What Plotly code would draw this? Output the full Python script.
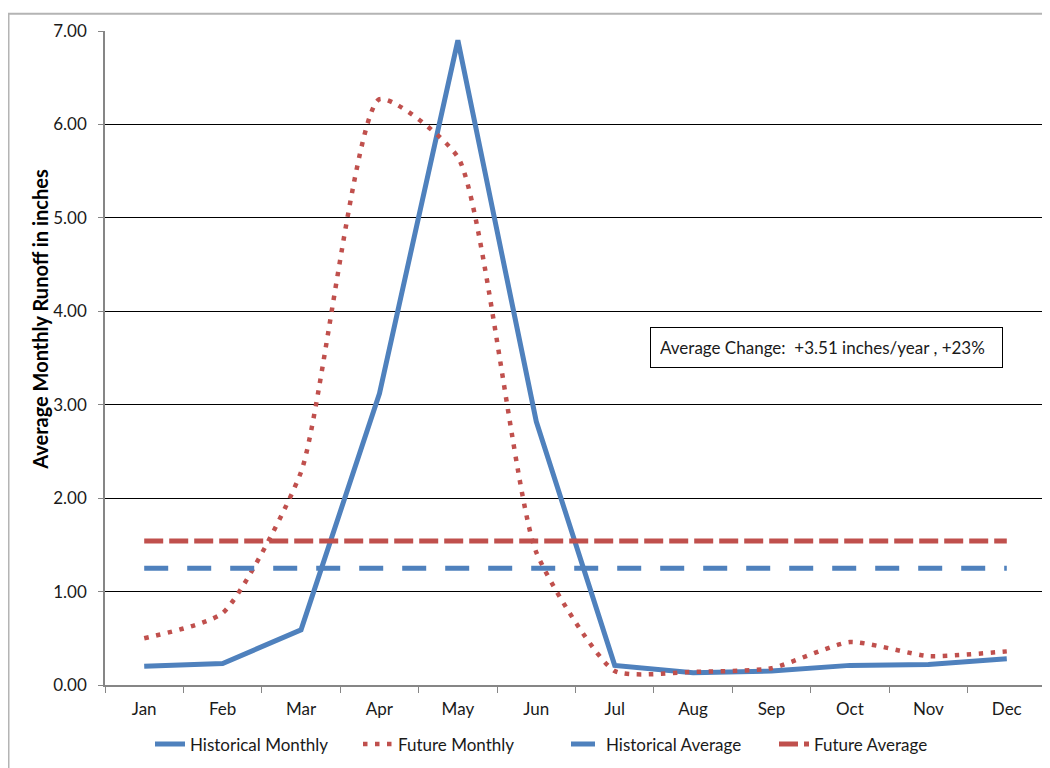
import plotly.graph_objects as go

months = ["Jan", "Feb", "Mar", "Apr", "May", "Jun", "Jul", "Aug", "Sep", "Oct", "Nov", "Dec"]
historical_monthly = [0.20, 0.23, 0.59, 3.12, 6.90, 2.82, 0.21, 0.13, 0.15, 0.21, 0.22, 0.28]
future_monthly = [0.50, 0.77, 2.28, 6.27, 5.65, 1.42, 0.15, 0.14, 0.18, 0.46, 0.31, 0.36]
historical_average = [1.25] * 12
future_average = [1.54] * 12
y_ticks = [0, 1, 2, 3, 4, 5, 6, 7]
y_tick_labels = ["0.00", "1.00", "2.00", "3.00", "4.00", "5.00", "6.00", "7.00"]
y_title = "Average Monthly Runoff in inches"
note = "Average Change:  +3.51 inches/year , +23%"

BLUE = "#4F81BD"
RED = "#C0504D"
FONT = "Lato"

fig = go.Figure()
fig.add_trace(go.Scatter(x=months, y=historical_monthly, name="Historical Monthly", mode="lines",
                         line=dict(color=BLUE, width=5)))
fig.add_trace(go.Scatter(x=months, y=future_monthly, name="Future Monthly", mode="lines",
                         line=dict(color=RED, width=4.5, dash="4.5px,7.5px", shape="spline", smoothing=0.55)))
fig.add_trace(go.Scatter(x=months, y=historical_average, name="Historical Average", mode="lines",
                         line=dict(color=BLUE, width=5, dash="24px,19px")))
fig.add_trace(go.Scatter(x=months, y=future_average, name="Future Average", mode="lines",
                         line=dict(color=RED, width=5, dash="19px,6px")))

# page body adds an 8px offset; all coordinates below are figure pixels
W, H = 1050, 768
L, R, T, B = 97, 1038, 18, 677
pw, ph = R - L, B - T

def px(x):
    return (x - L) / pw

def py(y):
    return (B - y) / ph

shapes = [
    # outer chart border
    dict(type="rect", xref="paper", yref="paper", x0=px(0.5), x1=px(W + 20), y0=py(H + 20), y1=py(0.5),
         line=dict(color="#B4B4B4", width=2), fillcolor="rgba(0,0,0,0)", layer="below"),
    # right plot border
    dict(type="line", xref="paper", yref="paper", x0=1, x1=1, y0=0, y1=1,
         line=dict(color="#000000", width=1.5)),
]

fig.update_layout(
    width=W, height=H,
    margin=dict(l=L, r=W - R, t=T, b=H - B),
    paper_bgcolor="white", plot_bgcolor="white",
    font=dict(family=FONT, size=17, color="#1a1a1a"),
    showlegend=True,
    legend=dict(orientation="h", x=px(142), xanchor="left", y=py(737), yanchor="middle",
                font=dict(size=17), entrywidth=163, itemwidth=30, bgcolor="rgba(0,0,0,0)"),
    shapes=shapes,
    annotations=[
        dict(xref="paper", yref="paper", x=px(642), y=py(337), xanchor="left", yanchor="middle",
             text=note, showarrow=False, align="left", font=dict(size=17, color="#1a1a1a"),
             bordercolor="#000000", borderwidth=1, borderpad=9, width=333, bgcolor="white"),
        dict(xref="paper", yref="paper", x=px(32), y=py(309), xanchor="center", yanchor="middle",
             text="<b>" + y_title + "</b>", textangle=-90, showarrow=False,
             font=dict(size=20, color="#000000")),
    ],
)

fig.update_xaxes(type="category", range=[-0.5, 11.5], showgrid=False, showline=True, linecolor="#868686",
                 linewidth=1.5, ticks="outside", ticklen=6, tickcolor="#868686", tickson="boundaries",
                 tickfont=dict(size=17), ticklabelstandoff=8, zeroline=False, fixedrange=True)
fig.update_yaxes(range=[0, 7], tickvals=y_ticks, ticktext=y_tick_labels, showgrid=True, gridcolor="#000000",
                 gridwidth=1, showline=True, linecolor="#868686", linewidth=1.5, ticks="outside", ticklen=5,
                 tickcolor="#868686", tickfont=dict(size=17), ticklabelstandoff=8, zeroline=False)

fig.write_html("out.html")
